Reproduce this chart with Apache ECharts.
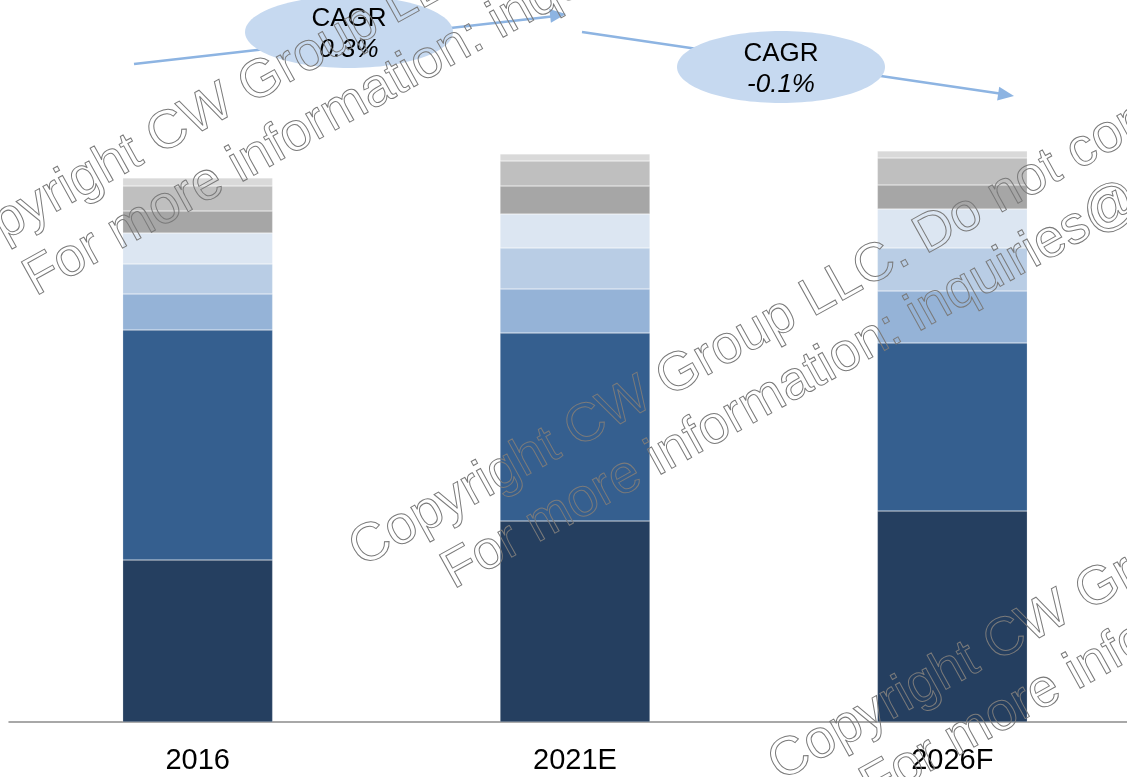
<!DOCTYPE html>
<html>
<head>
<meta charset="utf-8">
<title>CAGR stacked bars</title>
<script src="https://cdn.jsdelivr.net/npm/echarts@6/dist/echarts.min.js"></script>
<style>
  html, body { margin: 0; padding: 0; background: #fff; }
  #main { width: 1127px; height: 777px; }
</style>
</head>
<body>
<div id="main"></div>
<script>
    // categories and segment values (bottom segment first)
    var categories = ['2016', '2021E', '2026F'];
    var seg1 = [162, 201, 211];
    var seg2 = [230, 188, 168];
    var seg3 = [36, 44, 52];
    var seg4 = [30, 41, 43];
    var seg5 = [31, 34, 39];
    var seg6 = [22, 28, 24];
    var seg7 = [25, 25, 27];
    var seg8 = [8, 7, 7];
    var cagrLabels = ['0.3%', '-0.1%'];

    var segments = [seg1, seg2, seg3, seg4, seg5, seg6, seg7, seg8];
    var colors = ['#253f60', '#355f8f', '#95b3d7', '#b9cde5', '#dce6f2', '#a6a6a6', '#bfbfbf', '#d9d9d9'];

    var myChart = echarts.init(document.getElementById('main'));

    var series = [];
    for (var i = 0; i < segments.length; i++) {
        series.push({
            name: 'Segment ' + (i + 1),
            type: 'bar',
            stack: 'total',
            barWidth: 150,
            itemStyle: {
                color: colors[i],
                borderColor: 'rgba(255,255,255,0.35)',
                borderWidth: 0.6
            },
            data: segments[i]
        });
    }

    // arrow head as a small triangle
    function arrowHead(x1, y1, x2, y2, color) {
        var a = Math.atan2(y2 - y1, x2 - x1);
        var len = 16, w = 7;
        var bx = x2 - len * Math.cos(a), by = y2 - len * Math.sin(a);
        return {
            type: 'polygon',
            z: 10,
            shape: { points: [[x2, y2], [bx + w * Math.sin(a), by - w * Math.cos(a)], [bx - w * Math.sin(a), by + w * Math.cos(a)]] },
            style: { fill: color }
        };
    }

    function cagrBubble(cx, cy, label) {
        return [
            {
                type: 'ellipse', z: 11,
                shape: { cx: cx, cy: cy, rx: 104, ry: 36 },
                style: { fill: '#c6d9f0' }
            },
            {
                type: 'text', z: 12, x: cx, y: cy - 13,
                style: { text: 'CAGR', fill: '#000', font: '26px "Liberation Sans", Arial, sans-serif', align: 'center', verticalAlign: 'middle' }
            },
            {
                type: 'text', z: 12, x: cx, y: cy + 18,
                style: { text: label, fill: '#000', font: 'italic 26px "Liberation Sans", Arial, sans-serif', align: 'center', verticalAlign: 'middle' }
            }
        ];
    }

    // outlined watermark, two lines, rotated, drawn over the bars
    function watermark(x, y) {
        var wmStyle = { fill: 'rgba(0,0,0,0)', stroke: '#7a7a7a', lineWidth: 1, font: '54px "Liberation Sans", Arial, sans-serif', verticalAlign: 'bottom' };
        return {
            type: 'group', x: x, y: y, rotation: 29 * Math.PI / 180,
            children: [
                { type: 'text', x: 0, y: 0, z: 100, zlevel: 0, style: Object.assign({ text: 'Copyright CW Group LLC. Do not copy' }, wmStyle) },
                { type: 'text', x: 70, y: 64, z: 100, zlevel: 0, style: Object.assign({ text: 'For more information: inquiries@cw-grp.com' }, wmStyle) }
            ]
        };
    }

    var lineColor = '#8db4e2';
    var graphics = [
        { type: 'line', z: 10, shape: { x1: 134, y1: 64, x2: 556, y2: 16 }, style: { stroke: lineColor, lineWidth: 2.5 } },
        arrowHead(134, 64, 566, 14, lineColor),
        { type: 'line', z: 10, shape: { x1: 582, y1: 32, x2: 1003, y2: 94 }, style: { stroke: lineColor, lineWidth: 2.5 } },
        arrowHead(582, 32, 1014, 96, lineColor)
    ];
    graphics = graphics.concat(cagrBubble(349, 32, cagrLabels[0]), cagrBubble(781, 67, cagrLabels[1]));
    graphics.push(watermark(-51, 285), watermark(367, 578), watermark(786, 792));

    var option = {
        animation: false,
        backgroundColor: '#fff',
        grid: { left: 9, right: -14, top: 0, bottom: 55, outerBoundsMode: 'none' },
        xAxis: {
            type: 'category',
            data: categories,
            axisLine: { lineStyle: { color: '#8c8c8c', width: 1.5 } },
            axisTick: { show: false },
            axisLabel: { color: '#000', fontSize: 29, fontFamily: '"Liberation Sans", Arial, sans-serif', margin: 24 }
        },
        yAxis: {
            type: 'value',
            min: 0,
            max: 722,
            show: false,
            splitLine: { show: false }
        },
        series: series,
        graphic: { elements: graphics }
    };

    myChart.setOption(option);
</script>
</body>
</html>
